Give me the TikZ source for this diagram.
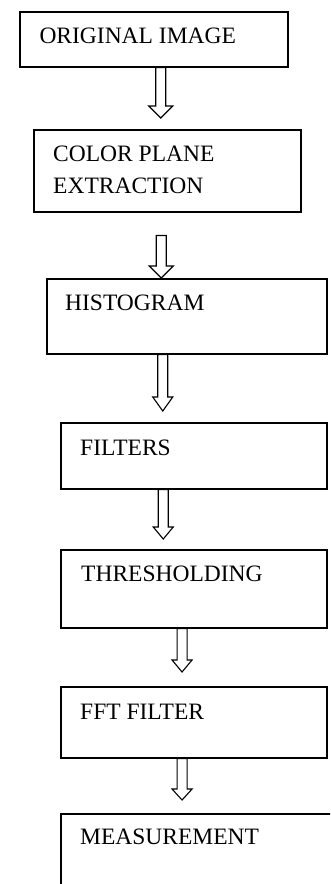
\documentclass[tikz,border=0pt]{standalone}
\usepackage{fontspec}
\setmainfont{Liberation Serif}
\usetikzlibrary{calc}

\tikzset{
  stage/.style n args={2}{draw, line width=1.5pt, rectangle, inner sep=0pt,
    anchor=north west, minimum width=#1pt, minimum height=#2pt},
  caption/.style={anchor=base west, inner sep=0pt,
    font=\fontsize{23.5}{28}\selectfont},
  flow/.style={draw, line width=1.1pt, fill=white, line join=miter}
}

% hollow block arrow: start point, tip point, half width of the head, head length
\newcommand\hollowarrow[4]{%
  \draw[flow] ($(#1)+(-5,0)$) -- ($(#2)+(-5,-#4)$) -- ($(#2)+(-#3,-#4)$)
    -- (#2) -- ($(#2)+(#3,-#4)$) -- ($(#2)+(5,-#4)$) -- ($(#1)+(5,0)$) -- cycle;}

\begin{document}
\begin{tikzpicture}[x=1pt,y=-1pt]
  \fill[white] (0,0) rectangle (330,884);
  \useasboundingbox (0,0) rectangle (330,884);
  \clip (0,0) rectangle (330,884);

  % process stages
  \node[stage={268}{55}] (b1) at (19,11) {};
  \node[stage={267}{82}] (b2) at (33,129) {};
  \node[stage={280}{75}] (b3) at (46,278) {};
  \node[stage={266}{66}] (b4) at (60,422) {};
  \node[stage={266}{78}] (b5) at (60,549) {};
  \node[stage={266}{71}] (b6) at (60,686) {};
  \node[stage={285}{100}] (b7) at (60,813) {};

  % stage captions
  \node[caption] (t1)  at (39.3,43.3) {ORIGINAL IMAGE};
  \node[caption] (t2a) at (53,161.7) {COLOR PLANE};
  \node[caption] (t2b) at (53,193) {EXTRACTION};
  \node[caption] (t3)  at (65,310) {HISTOGRAM};
  \node[caption] (t4)  at (80,455) {FILTERS};
  \node[caption] (t5)  at (81,581.7) {THRESHOLDING};
  \node[caption] (t6)  at (80,719.3) {FFT FILTER};
  \node[caption] (t7)  at (80,844.3) {MEASUREMENT};

  % arrow ends
  \coordinate (s1) at ($(b1.south)+(7,0)$);
  \coordinate (e1) at ($(b2.north)+(-6.5,-11)$);
  \coordinate (s2) at ($(b2.south)+(-6,23)$);
  \coordinate (e2) at ($(b3.north)+(-25.5,0)$);
  \coordinate (s3) at ($(b3.south)+(-24,0)$);
  \coordinate (e3) at ($(b4.north)+(-31,-11)$);
  \coordinate (s4) at ($(b4.south)+(-30.5,0)$);
  \coordinate (e4) at ($(b5.north)+(-30.5,-10)$);
  \coordinate (s5) at ($(b5.south)+(-11.7,0)$);
  \coordinate (e5) at ($(b6.north)+(-11.7,-14)$);
  \coordinate (s6) at ($(b6.south)+(-11.7,0)$);
  \coordinate (e6) at ($(b7.north)+(-21.2,-13)$);

  % flow arrows
  \hollowarrow{s1}{e1}{12}{12}
  \hollowarrow{s2}{e2}{12}{12}
  \hollowarrow{s3}{e3}{10}{14}
  \hollowarrow{s4}{e4}{10}{12}
  \hollowarrow{s5}{e5}{10}{12}
  \hollowarrow{s6}{e6}{10}{11}
\end{tikzpicture}
\end{document}
